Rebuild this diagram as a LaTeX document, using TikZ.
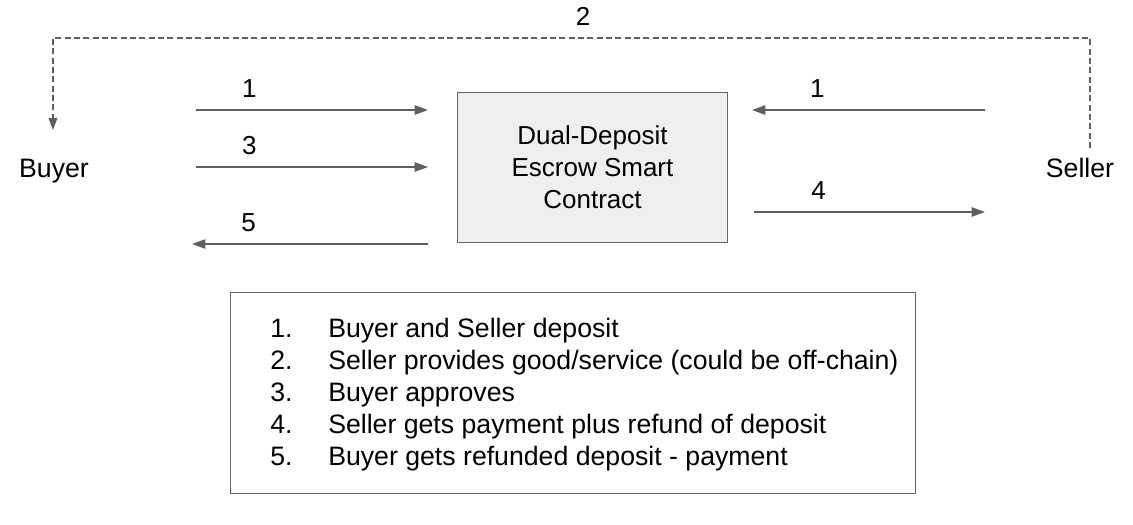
\documentclass[tikz,border=0pt]{standalone}
\usepackage{fontspec}
\setmainfont{Liberation Sans}
\usetikzlibrary{arrows.meta, positioning}
\definecolor{myline}{RGB}{95,95,95}
\definecolor{myframe}{RGB}{102,102,102}
\definecolor{myfill}{RGB}{239,239,239}
\tikzset{
  party/.style={font=\fontsize{20}{24}\selectfont, inner sep=2pt},
  contract/.style={rectangle, draw=myframe, fill=myfill, line width=0.9pt,
    minimum width=203pt, minimum height=113pt, align=center,
    font=\fontsize{19.5}{24}\selectfont},
  legend/.style={rectangle, draw=myframe, line width=0.9pt,
    minimum width=514pt, minimum height=151pt},
  steplabel/.style={font=\fontsize{19.5}{24}\selectfont, text=black, above=8pt, inner sep=1pt},
  arrow/.style={-{Triangle[length=10pt, width=7pt]}, line width=1.1pt, color=myline},
  dasharrow/.style={-{Triangle[length=9pt, width=6.5pt]}, line width=1pt,
    color=myline, dash pattern=on 4.5pt off 2.5pt}
}

\begin{document}
\begin{tikzpicture}[x=0.75pt, y=-0.75pt]
  \useasboundingbox (0,0) rectangle (1133,525);

  % Parties and contract
  \node[party] (buyer) at (54,171) {Buyer};
  \node[party] (seller) at (1080,168) {Seller};
  \node[contract] (escrow) at (592.5,167.5) {Dual-Deposit\\Escrow Smart\\Contract};

  % Arrow ends
  \coordinate (b1s) at (196,110);  \coordinate (b1e) at (428,110);
  \coordinate (b3s) at (196,167);  \coordinate (b3e) at (428,167);
  \coordinate (b5s) at (428,244);  \coordinate (b5e) at (192,244);
  \coordinate (s1s) at (985,110);  \coordinate (s1e) at (752,110);
  \coordinate (s4s) at (754,212);  \coordinate (s4e) at (985,212);
  \coordinate (s2) at (1090,148);
  \coordinate (top) at (583,38);
  \coordinate (b2) at (53,130);

  % Buyer side
  \draw[arrow] (b1s) -- node[steplabel, pos=0.23] {1} (b1e);
  \draw[arrow] (b3s) -- node[steplabel, pos=0.23] {3} (b3e);
  \draw[arrow] (b5s) -- node[steplabel, pos=0.76] {5} (b5e);

  % Seller side
  \draw[arrow] (s1s) -- node[steplabel, pos=0.72] {1} (s1e);
  \draw[arrow] (s4s) -- node[steplabel, pos=0.28] {4} (s4e);

  % Off-chain delivery
  \draw[dasharrow] (s2) |- (top) -| (b2);
  \node[steplabel] (two) at (top) {2};

  % Legend
  \node[legend] (key) at (573,393) {};
  \node[anchor=base west, inner sep=0pt, font=\fontsize{20}{24}\selectfont] (steps) at (270,337)
    {\begin{tabular}[t]{@{}p{43.5pt}@{}l@{}}
      1. & Buyer and Seller deposit\\
      2. & Seller provides good/service (could be off-chain)\\
      3. & Buyer approves\\
      4. & Seller gets payment plus refund of deposit\\
      5. & Buyer gets refunded deposit - payment
    \end{tabular}};
\end{tikzpicture}
\end{document}
